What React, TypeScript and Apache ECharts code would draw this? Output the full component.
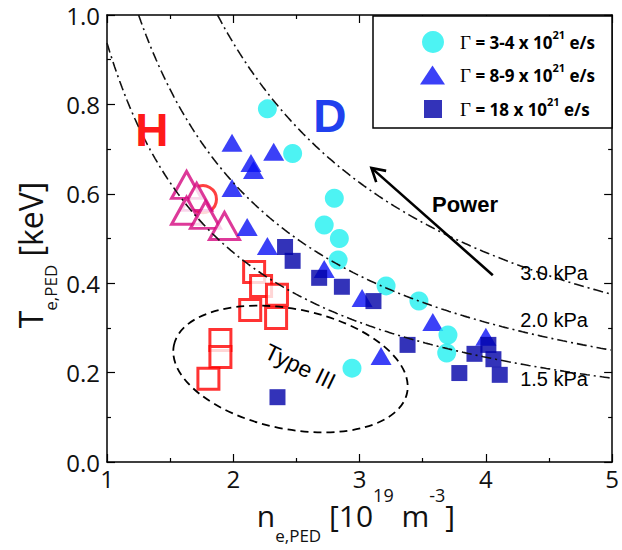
import React, { useEffect, useRef } from "react";
import * as echarts from "echarts";

// ---- axes ----
const xTickValues = [1, 2, 3, 4, 5];
const yTickValues = [0, 0.2, 0.4, 0.6, 0.8, 1.0];

// ---- data (n_e,PED [1e19 m^-3], T_e,PED [keV]) ----
const g34Names = "Γ = 3-4 x 10^21 e/s";
const g34N = [2.27, 2.47, 2.80, 2.72, 2.84, 2.83, 3.21, 3.47, 3.70, 3.69, 2.94];
const g34T = [0.79, 0.69, 0.59, 0.53, 0.50, 0.452, 0.394, 0.36, 0.284, 0.244, 0.21];

const g89Name = "Γ = 8-9 x 10^21 e/s";
const g89N = [1.99, 2.32, 2.14, 2.16, 1.99, 2.11, 2.27, 2.72, 3.02, 3.58, 4.0, 3.17];
const g89T = [0.714, 0.694, 0.669, 0.653, 0.613, 0.526, 0.483, 0.432, 0.367, 0.313, 0.28, 0.237];

const g18Name = "Γ = 18 x 10^21 e/s";
const g18N = [2.41, 2.47, 2.68, 2.86, 3.11, 3.38, 3.79, 3.91, 4.02, 4.06, 4.11, 2.35];
const g18T = [0.481, 0.45, 0.412, 0.392, 0.36, 0.262, 0.199, 0.242, 0.262, 0.23, 0.195, 0.145];

const hTriN = [1.63, 1.71, 1.63, 1.78, 1.93];
const hTriT = [0.62, 0.593, 0.562, 0.553, 0.528];

const hCircN = [1.76];
const hCircT = [0.588];

const t3N = [2.165, 2.22, 2.346, 2.134, 2.339, 1.898, 1.898, 1.803];
const t3T = [0.425, 0.394, 0.374, 0.34, 0.322, 0.273, 0.235, 0.186];

// isobars p = n*T*e  -> 1.6 kPa per (1e19 m^-3 * keV)
const isobarKPa = [3.0, 2.0, 1.5];
const isobarLabels = ["3.0 kPa", "2.0 kPa", "1.5 kPa"];
const isobarLabelN = [4.54, 4.54, 4.54];
const isobarLabelT = [0.423, 0.318, 0.186];
const KPA_PER_UNIT = 1.6;

// annotations (data coords)
const hLabel = { n: 1.355, t: 0.743 };
const dLabel = { n: 2.765, t: 0.774 };
const powerLabel = { n: 3.835, t: 0.577 };
const arrowTail = { n: 4.055, t: 0.418 };
const arrowHead = { n: 3.094, t: 0.658 };
const typeIIILabel = { n: 2.53, t: 0.214 };
const ellipseCenter = { n: 2.453, t: 0.208 };

const FONT = "'Open Sans', 'DejaVu Sans', sans-serif";
const ARIAL = "'Liberation Sans', Arial, sans-serif";

function zip(a: number[], b: number[]) {
  return a.map((v, i) => [v, b[i]]);
}

function isobar(p: number) {
  const pts: number[][] = [];
  const n0 = Math.max(1, p / KPA_PER_UNIT);
  for (let n = n0; n <= 5.0001; n += 0.02) pts.push([n, p / (KPA_PER_UNIT * n)]);
  return pts;
}

const legendRich = {
  g: { fontFamily: "'Liberation Serif', serif", fontSize: 19, lineHeight: 26, color: "#000" },
  t: { fontFamily: FONT, fontWeight: "bold", fontSize: 17, lineHeight: 26, color: "#000" },
  s: { fontFamily: FONT, fontWeight: "bold", fontSize: 11, lineHeight: 11, verticalAlign: "top", color: "#000" },
};
function legendFormatter(name: string) {
  const m = name.match(/^Γ = (.*) x 10\^21 e\/s$/);
  const mid = m ? m[1] : name;
  return `{g|Γ}{t| = ${mid} x 10}{s|21}{t| e/s}`;
}

export default function App() {
  const ref = useRef<HTMLDivElement>(null);
  useEffect(() => {
    document.body.style.margin = "0";
    const chart = echarts.init(ref.current!, null, { renderer: "svg" });
    const baseAxis = {
      type: "value" as const,
      axisLine: { show: true, onZero: false, lineStyle: { color: "#000", width: 1.5 } },
      axisTick: { show: true, inside: true, length: 8, lineStyle: { color: "#000", width: 1.2 } },
      minorTick: { show: true, splitNumber: 2, length: 4, lineStyle: { color: "#000", width: 1.2 } },
      splitLine: { show: false },
    };
    const option: any = {
      animation: false,
      backgroundColor: "#fff",
      grid: { left: 107, top: 15, right: 6, bottom: 88 },
      xAxis: [
        {
          ...baseAxis,
          min: xTickValues[0],
          max: xTickValues[xTickValues.length - 1],
          interval: 1,
          position: "bottom",
          axisLabel: { margin: 4, fontFamily: FONT, fontSize: 24, color: "#111" },
        },
        {
          ...baseAxis,
          min: xTickValues[0],
          max: xTickValues[xTickValues.length - 1],
          interval: 1,
          position: "top",
          axisLabel: { show: false },
        },
      ],
      yAxis: [
        {
          ...baseAxis,
          min: yTickValues[0],
          max: yTickValues[yTickValues.length - 1],
          interval: 0.2,
          position: "left",
          axisLabel: {
            margin: 7,
            fontFamily: FONT,
            fontSize: 24,
            color: "#111",
            formatter: (v: number) => v.toFixed(1),
          },
        },
        {
          ...baseAxis,
          min: yTickValues[0],
          max: yTickValues[yTickValues.length - 1],
          interval: 0.2,
          position: "right",
          axisLabel: { show: false },
        },
      ],
      legend: [
        {
          data: [{ name: g34Names, icon: "circle" }],
          left: 422, top: 29, itemWidth: 22, itemHeight: 22, padding: 0,
          symbolKeepAspect: false, selectedMode: false, z: 10,
          formatter: legendFormatter,
          textStyle: { padding: [0, 0, 0, 11], rich: legendRich },
        },
        {
          data: [{ name: g89Name, icon: "triangle" }],
          left: 420, top: 62, itemWidth: 25, itemHeight: 19, padding: 0,
          symbolKeepAspect: false, selectedMode: false, z: 10,
          formatter: legendFormatter,
          textStyle: { padding: [0, 0, 0, 10], rich: legendRich },
        },
        {
          data: [{ name: g18Name, icon: "rect" }],
          left: 424, top: 96, itemWidth: 18, itemHeight: 18, padding: 0,
          symbolKeepAspect: false, selectedMode: false, z: 10,
          formatter: legendFormatter,
          textStyle: { padding: [0, 0, 0, 13], rich: legendRich },
        },
      ],
      series: [
        {
          name: "H-mode (open circle)",
          type: "scatter",
          data: zip(hCircN, hCircT),
          symbol: "circle",
          symbolSize: 27,
          itemStyle: { color: "#fff", borderColor: "#ff1010", borderWidth: 3 },
          z: 2,
        },
        {
          name: "H-mode (open triangles)",
          type: "scatter",
          data: zip(hTriN, hTriT),
          symbol: "triangle",
          symbolSize: [30, 27],
          itemStyle: { color: "#fff", borderColor: "#d5087f", borderWidth: 3 },
          z: 3,
        },
        {
          name: "Type III (open squares)",
          type: "scatter",
          data: zip(t3N, t3T),
          symbol: "rect",
          symbolSize: 21,
          itemStyle: { color: "#fff", borderColor: "#ff0000", borderWidth: 3 },
          z: 3,
        },
        {
          name: g89Name,
          type: "scatter",
          data: zip(g89N, g89T),
          symbol: "triangle",
          symbolSize: [21, 18],
          itemStyle: { color: "#0a10f5" },
          z: 3,
        },
        {
          name: g34Names,
          type: "scatter",
          data: zip(g34N, g34T),
          symbol: "circle",
          symbolSize: 19,
          itemStyle: { color: "#20f0f0" },
          z: 3,
        },
        {
          name: g18Name,
          type: "scatter",
          data: zip(g18N, g18T),
          symbol: "rect",
          symbolSize: 16,
          itemStyle: { color: "#0000a8" },
          z: 3,
        },
        ...isobarKPa.map((p) => ({
          name: `${p.toFixed(1)} kPa`,
          type: "line",
          data: isobar(p),
          showSymbol: false,
          symbol: "none",
          clip: true,
          smooth: false,
          lineStyle: { color: "#111", width: 1.6, type: [10, 4, 2, 4] },
          z: 5,
        })),
      ],
    };
    chart.setOption(option);

    const px = (n: number, t: number) => chart.convertToPixel({ seriesIndex: 0 }, [n, t]) as number[];

    const head = px(arrowHead.n, arrowHead.t);
    const tail = px(arrowTail.n, arrowTail.t);
    const dx = head[0] - tail[0];
    const dy = head[1] - tail[1];
    const len = Math.sqrt(dx * dx + dy * dy);
    const ux = dx / len, uy = dy / len;
    const wing = 15, ang = Math.PI / 6;
    const w1 = [
      head[0] - wing * (ux * Math.cos(ang) - uy * Math.sin(ang)),
      head[1] - wing * (ux * Math.sin(ang) + uy * Math.cos(ang)),
    ];
    const w2 = [
      head[0] - wing * (ux * Math.cos(-ang) - uy * Math.sin(-ang)),
      head[1] - wing * (ux * Math.sin(-ang) + uy * Math.cos(-ang)),
    ];

    const hP = px(hLabel.n, hLabel.t);
    const dP = px(dLabel.n, dLabel.t);
    const pP = px(powerLabel.n, powerLabel.t);
    const tP = px(typeIIILabel.n, typeIIILabel.t);
    const eP = px(ellipseCenter.n, ellipseCenter.t);

    const graphic: any[] = [
      {
        type: "rect",
        shape: { x: 373, y: 16, width: 239, height: 112 },
        style: { fill: "#fff", stroke: "#000", lineWidth: 1.5 },
        z: 6,
      },
      {
        type: "text", x: hP[0], y: hP[1], z: 7,
        style: { text: "H", fill: "#ff1a1a", font: `bold 46px ${ARIAL}`, align: "center", verticalAlign: "middle" },
      },
      {
        type: "text", x: dP[0], y: dP[1], z: 7,
        style: { text: "D", fill: "#2040ee", font: `bold 46px ${ARIAL}`, align: "center", verticalAlign: "middle" },
      },
      {
        type: "text", x: pP[0], y: pP[1], z: 7,
        style: { text: "Power", fill: "#000", font: `bold 22px ${ARIAL}`, align: "center", verticalAlign: "middle" },
      },
      {
        type: "line", z: 7,
        shape: { x1: tail[0], y1: tail[1], x2: head[0], y2: head[1] },
        style: { stroke: "#000", lineWidth: 2.6 },
      },
      {
        type: "polyline", z: 7,
        shape: { points: [w1, head, w2] },
        style: { stroke: "#000", lineWidth: 2.6, fill: null },
      },
      ...isobarLabels.map((lab, i) => {
        const p = px(isobarLabelN[i], isobarLabelT[i]);
        return {
          type: "text", x: p[0], y: p[1], z: 7,
          style: { text: lab, fill: "#000", font: `20px ${ARIAL}`, align: "center", verticalAlign: "middle" },
        };
      }),
      {
        type: "text", x: tP[0], y: tP[1], rotation: -0.45, z: 7,
        style: { text: "Type III", fill: "#000", font: `23px ${ARIAL}`, align: "center", verticalAlign: "middle" },
      },
      {
        type: "ellipse", x: eP[0], y: eP[1], rotation: -0.2, z: 7,
        shape: { cx: 0, cy: 0, rx: 119, ry: 60 },
        style: { fill: null, stroke: "#000", lineWidth: 1.8, lineDash: [8, 5] },
      },
      {
        type: "text", x: 356, y: 515, z: 7,
        style: {
          text: "{m|n}{b|e,PED}{m| [10}{p|19}{m| m}{p|-3}{m|]}",
          align: "center", verticalAlign: "middle",
          rich: {
            m: { fontFamily: FONT, fontSize: 30, lineHeight: 58, fill: "#111" },
            b: { fontFamily: FONT, fontSize: 17, lineHeight: 17, verticalAlign: "bottom", fill: "#111" },
            p: { fontFamily: FONT, fontSize: 18, lineHeight: 18, verticalAlign: "top", fill: "#111" },
          },
        },
      },
      {
        type: "text", x: 30, y: 255, rotation: Math.PI / 2, z: 7,
        style: {
          text: "{m|T}{b|e,PED}{m| [keV]}",
          align: "center", verticalAlign: "middle",
          rich: {
            m: { fontFamily: FONT, fontSize: 32, lineHeight: 58, fill: "#111" },
            b: { fontFamily: FONT, fontSize: 17, lineHeight: 17, verticalAlign: "bottom", fill: "#111" },
          },
        },
      },
    ];
    chart.setOption({ graphic });

    return () => chart.dispose();
  }, []);
  return <div ref={ref} style={{ width: 622, height: 550 }} />;
}
